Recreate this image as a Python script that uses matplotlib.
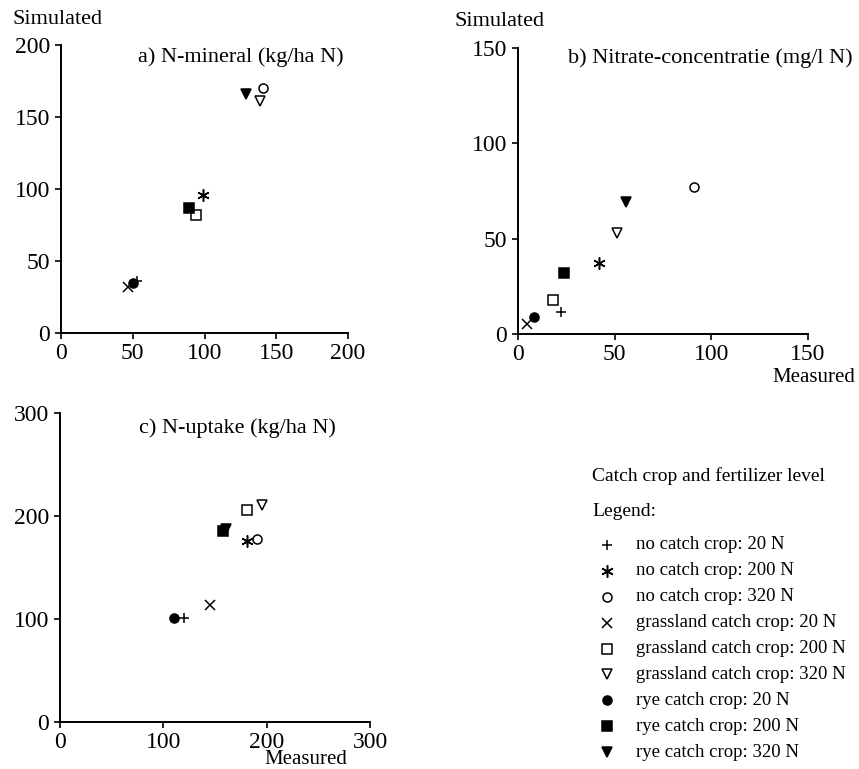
import matplotlib.pyplot as plt

plt.rcParams['font.family'] = ['Liberation Serif', 'DejaVu Serif']

# legend categories (same order in every panel)
labels = ['no catch crop: 20 N', 'no catch crop: 200 N', 'no catch crop: 320 N',
          'grassland catch crop: 20 N', 'grassland catch crop: 200 N', 'grassland catch crop: 320 N',
          'rye catch crop: 20 N', 'rye catch crop: 200 N', 'rye catch crop: 320 N']
markers = ['+', (6, 2, 0), 'o', 'x', 's', 'v', 'o', 's', 'v']
filled = [True, True, False, True, False, False, True, True, True]

# a) N-mineral (kg/ha N)
a_meas = [53, 99, 141, 47, 94, 139, 50, 89, 129]
a_sim = [36, 96, 170, 32, 82, 161, 35, 87, 166]
# b) Nitrate-concentratie (mg/l N)
b_meas = [22, 42, 91, 4.8, 18, 51, 8.4, 24, 56]
b_sim = [11.7, 37, 77, 5.2, 18, 53, 9, 32, 69]
# c) N-uptake (kg/ha N)
c_meas = [120, 181, 191, 145, 181, 195, 110, 158, 161]
c_sim = [101, 176, 178, 114, 206, 211, 101, 185, 187]

W, H = 859, 769
fig = plt.figure(figsize=(W / 100, H / 100), dpi=100)


def px_axes(left, top, right, bottom):
    return fig.add_axes([left / W, 1 - bottom / H, (right - left) / W, (bottom - top) / H])


def msize(m, base):
    # the asterisk reads smaller than the other symbols at the same size
    return base * 1.35 if isinstance(m, tuple) else base


def draw_points(ax, xs, ys, ms=6.5):
    for x, y, m, f in zip(xs, ys, markers, filled):
        fc = 'black' if f else 'none'
        ax.plot([x], [y], linestyle='none', marker=m, ms=msize(m, ms), mfc=fc, mec='black',
                mew=1.1, clip_on=False)


def style(ax, lim, ticks):
    ax.set_xlim(0, lim)
    ax.set_ylim(0, lim)
    ax.set_xticks(ticks)
    ax.set_yticks(ticks)
    for s in ['top', 'right']:
        ax.spines[s].set_visible(False)
    for s in ['left', 'bottom']:
        ax.spines[s].set_linewidth(1.4)
    ax.tick_params(direction='out', length=4, width=1.2, labelsize=17, pad=3)
    ax.tick_params(axis='y', pad=4)
    ax.patch.set_alpha(0)


ax_a = px_axes(61, 45, 348, 333)
draw_points(ax_a, a_meas, a_sim)
style(ax_a, 200, [0, 50, 100, 150, 200])

ax_b = px_axes(518, 48, 808, 334)
draw_points(ax_b, b_meas, b_sim)
style(ax_b, 150, [0, 50, 100, 150])

ax_c = px_axes(60, 413, 370, 722)
draw_points(ax_c, c_meas, c_sim)
style(ax_c, 300, [0, 100, 200, 300])

txt = dict(fontsize=16, va='center')
fig.text(241 / W, 1 - 57 / H, 'a) N-mineral (kg/ha N)', ha='center', **txt)
fig.text(710 / W, 1 - 58 / H, 'b) Nitrate-concentratie (mg/l N)', ha='center', **txt)
fig.text(237 / W, 1 - 428 / H, 'c) N-uptake (kg/ha N)', ha='center', **txt)
fig.text(12 / W, 1 - 20 / H, 'Simulated', ha='left', **txt)
fig.text(455 / W, 1 - 21 / H, 'Simulated', ha='left', **txt)
fig.text(855 / W, 1 - 377 / H, 'Measured', ha='right', fontsize=15, va='center')
fig.text(306 / W, 1 - 759 / H, 'Measured', ha='center', fontsize=15, va='center')

# legend block
fig.text(592 / W, 1 - 476 / H, 'Catch crop and fertilizer level', ha='left', fontsize=14, va='center')
fig.text(592 / W, 1 - 512 / H, 'Legend:', ha='left', fontsize=14, va='center')

ax_l = px_axes(590, 532, 859, 765)
ax_l.set_xlim(0, 269)
ax_l.set_ylim(len(labels) - 0.5, -0.5)
ax_l.axis('off')
for i, (lab, m, f) in enumerate(zip(labels, markers, filled)):
    fc = 'black' if f else 'none'
    ax_l.plot([17], [i], linestyle='none', marker=m, ms=msize(m, 6.5), mfc=fc, mec='black', mew=1.1)
    ax_l.text(46, i, lab, fontsize=13.5, va='center', ha='left')

fig.savefig('out.png', dpi=100)
